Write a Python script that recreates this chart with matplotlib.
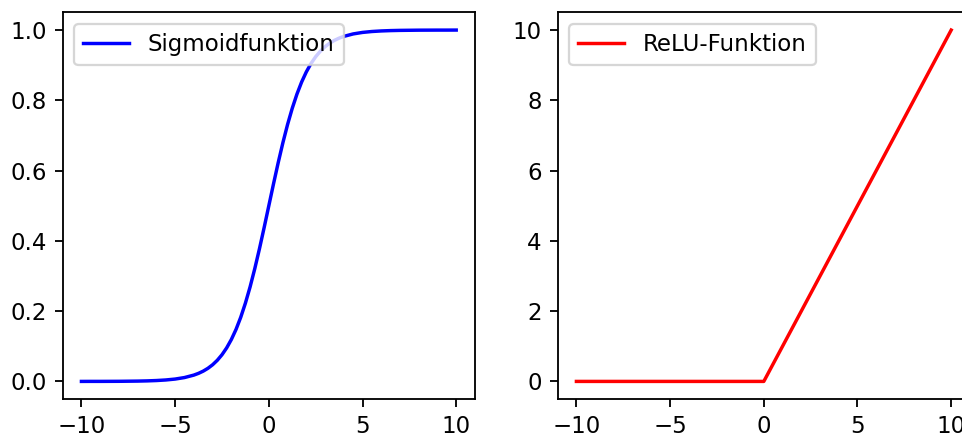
# Sigmoid- und ReLU-Funktion nebeneinander
import matplotlib
matplotlib.use("Agg")
from matplotlib import pyplot as plt

# Sigmoid curve, values
sig_x = [-10.0, -9.5, -9.0, -8.5, -8.0, -7.5, -7.0, -6.5, -6.0, -5.5, -5.0,
         -4.5, -4.0, -3.75, -3.5, -3.25, -3.0, -2.75, -2.5, -2.25, -2.0, -1.75,
         -1.5, -1.25, -1.0, -0.75, -0.5, -0.25, 0.0,
         0.25, 0.5, 0.75, 1.0, 1.25, 1.5, 1.75, 2.0, 2.25, 2.5, 2.75, 3.0,
         3.25, 3.5, 3.75, 4.0, 4.5, 5.0,
         5.5, 6.0, 6.5, 7.0, 7.5, 8.0, 8.5, 9.0, 9.5, 10.0]
sig_y = [0.0000, 0.0001, 0.0001, 0.0002, 0.0003, 0.0006, 0.0009, 0.0015, 0.0025, 0.0041, 0.0067,
         0.0110, 0.0180, 0.0230, 0.0293, 0.0373, 0.0474, 0.0601, 0.0759, 0.0954, 0.1192, 0.1480,
         0.1824, 0.2227, 0.2689, 0.3208, 0.3775, 0.4378, 0.5000,
         0.5622, 0.6225, 0.6792, 0.7311, 0.7773, 0.8176, 0.8520, 0.8808, 0.9047, 0.9241, 0.9399, 0.9526,
         0.9627, 0.9707, 0.9770, 0.9820, 0.9890, 0.9933,
         0.9959, 0.9975, 0.9985, 0.9991, 0.9994, 0.9997, 0.9998, 0.9999, 0.9999, 1.0000]

# ReLU, right panel
relu_x = [-10, 0, 10]
relu_y = [0, 0, 10]

DPI = 165
fig = plt.figure(figsize=(963 / DPI, 437 / DPI), dpi=DPI)

# axes placed by hand; the right panel runs slightly past the image edge
ax1 = fig.add_axes([0.0651, 0.087, 0.4281, 0.8844])
ax2 = fig.add_axes([0.5791, 0.087, 0.4281, 0.8844])

ax1.plot(sig_x, sig_y, color="blue", linewidth=1.5, label="Sigmoidfunktion")
ax1.legend(loc="upper left")
ax1.set_xticks([-10, -5, 0, 5, 10])
ax1.set_yticks([0.0, 0.2, 0.4, 0.6, 0.8, 1.0])

ax2.plot(relu_x, relu_y, color="red", linewidth=1.5, label="ReLU-Funktion")
ax2.legend(loc="upper left")
ax2.set_xticks([-10, -5, 0, 5, 10])
ax2.set_yticks([0, 2, 4, 6, 8, 10])

fig.savefig("out.png", dpi=DPI)
plt.close(fig)
